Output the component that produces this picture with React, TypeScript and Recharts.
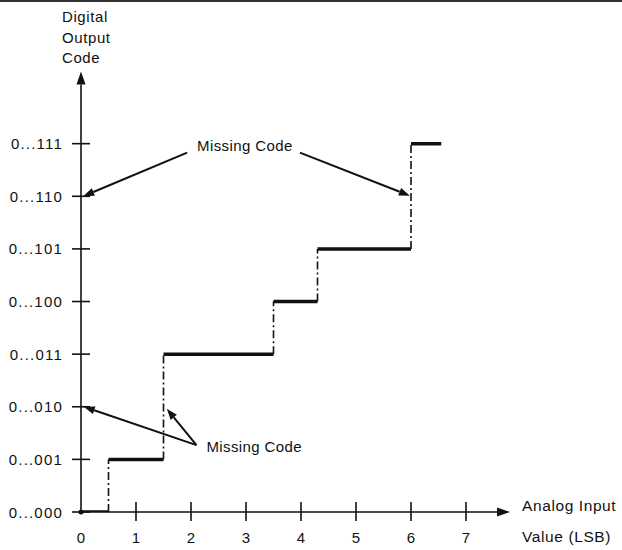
import { LineChart, Line, XAxis, YAxis, ReferenceLine, ReferenceDot } from "recharts";

// output codes shown on the vertical axis (index = code value)
const codeLabels = ["0...000", "0...001", "0...010", "0...011", "0...100", "0...101", "0...110", "0...111"];
const xTicks = [0, 1, 2, 3, 4, 5, 6, 7];

// staircase: each code is held from stepStart to stepEnd (LSB)
const stepCodes = [0, 1, 3, 4, 5, 7];
const stepStarts = [0, 0.5, 1.5, 3.5, 4.3, 6.0];
const stepEnds = [0.5, 1.5, 3.5, 4.3, 6.0, 6.55];

// "Missing Code" callouts: text anchor and arrows (tail -> tip)
const noteTop = { x: 2.98, y: 6.97 };
const noteBottom = { x: 3.15, y: 1.24 };
const arrowTails = [
  { x: 1.93, y: 6.83 },
  { x: 3.98, y: 6.83 },
  { x: 2.1, y: 1.27 },
  { x: 2.1, y: 1.27 },
];
const arrowTips = [
  { x: 0.04, y: 6 },
  { x: 5.98, y: 6.01 },
  { x: 0.05, y: 2 },
  { x: 1.56, y: 1.96 },
];

const FONT = '"Liberation Sans", Arial, Helvetica, sans-serif';
const INK = "#111";

// horizontal parts of the staircase, broken up with nulls
const flatData: { x: number; y: number | null }[] = [];
stepCodes.forEach((c, i) => {
  flatData.push({ x: stepStarts[i], y: c });
  flatData.push({ x: stepEnds[i], y: c });
  flatData.push({ x: stepEnds[i], y: null });
});

// vertical transitions (dash-dot)
const riseData: { x: number; y: number | null }[] = [];
for (let i = 0; i < stepCodes.length - 1; i++) {
  riseData.push({ x: stepEnds[i], y: stepCodes[i] });
  riseData.push({ x: stepEnds[i], y: stepCodes[i + 1] });
  riseData.push({ x: stepEnds[i], y: null });
}

const arrowShape = (head: number, width: number, sw: number) => (props: any) => {
  const { x1, y1, x2, y2 } = props;
  const ang = Math.atan2(y2 - y1, x2 - x1);
  const bx = x2 - head * Math.cos(ang);
  const by = y2 - head * Math.sin(ang);
  const px = Math.sin(ang) * width;
  const py = -Math.cos(ang) * width;
  return (
    <g>
      <line x1={x1} y1={y1} x2={bx} y2={by} stroke={INK} strokeWidth={sw} />
      <polygon points={`${x2},${y2} ${bx + px},${by + py} ${bx - px},${by - py}`} fill={INK} />
    </g>
  );
};

const YTick = (props: any) => {
  const { x, y, payload } = props;
  return (
    <g>
      <line x1={x - 9} x2={x + 9} y1={y} y2={y} stroke={INK} strokeWidth={1.6} />
      <text x={x - 18} y={y} textAnchor="end" dominantBaseline="central" fontSize={15} letterSpacing={1.2} fill={INK} fontFamily={FONT}>
        {codeLabels[payload.value]}
      </text>
    </g>
  );
};

const XTick = (props: any) => {
  const { x, y, payload } = props;
  return (
    <g>
      {payload.value !== 0 && <line x1={x} x2={x} y1={y - 10} y2={y + 9} stroke={INK} strokeWidth={1.6} />}
      <text x={x} y={y + 25} textAnchor="middle" dominantBaseline="central" fontSize={15} fill={INK} fontFamily={FONT}>
        {payload.value}
      </text>
    </g>
  );
};

const note = {
  content: (p: any) => (
    <text
      x={p.viewBox.x}
      y={p.viewBox.y}
      textAnchor="middle"
      dominantBaseline="central"
      fontSize={15}
      letterSpacing={0.4}
      fill={INK}
      fontFamily={FONT}
    >
      Missing Code
    </text>
  ),
};

export default function App() {
  return (
    <div style={{ position: "absolute", left: 0, top: 0, width: 622, height: 550, background: "#fff", fontFamily: FONT, color: INK }}>
      <div style={{ position: "absolute", left: 0, top: 0, width: 622, height: 2, background: "#333" }} />
      <div style={{ position: "absolute", left: 62, top: 7, fontSize: 15, letterSpacing: 0.6, lineHeight: "20.5px" }}>
        Digital
        <br />
        Output
        <br />
        Code
      </div>
      <div style={{ position: "absolute", left: 522, top: 490, fontSize: 15.5, lineHeight: "31px", letterSpacing: 0.6, whiteSpace: "nowrap" }}>
        Analog Input
        <br />
        Value (LSB)
      </div>
      <LineChart width={622} height={550} margin={{ top: 70, right: 101, bottom: 8, left: 11 }}>
        <XAxis
          type="number"
          dataKey="x"
          domain={[0, 8]}
          ticks={xTicks}
          interval={0}
          allowDataOverflow
          axisLine={false}
          tickLine={false}
          tickSize={0}
          tickMargin={0}
          height={30}
          tick={XTick}
        />
        <YAxis
          type="number"
          domain={[0, 8.4]}
          ticks={xTicks}
          interval={0}
          allowDataOverflow
          axisLine={false}
          tickLine={false}
          tickSize={0}
          tickMargin={0}
          width={70}
          tick={YTick}
        />
        {/* axes with arrow heads */}
        <ReferenceLine segment={[{ x: 0, y: 0 }, { x: 7.8, y: 0 }]} shape={arrowShape(13, 4.5, 1.6)} />
        <ReferenceLine segment={[{ x: 0, y: 0 }, { x: 0, y: 8.37 }]} shape={arrowShape(13, 4.5, 1.6)} />

        <Line
          data={riseData}
          dataKey="y"
          stroke={INK}
          strokeWidth={1.6}
          strokeDasharray="8 3 2 3"
          dot={false}
          connectNulls={false}
          isAnimationActive={false}
        />
        <Line
          data={flatData}
          dataKey="y"
          stroke={INK}
          strokeWidth={3.5}
          strokeLinecap="butt"
          dot={false}
          connectNulls={false}
          isAnimationActive={false}
        />
        <ReferenceDot x={0} y={0} r={2.5} fill={INK} stroke="none" />

        {arrowTails.map((t, i) => (
          <ReferenceLine key={i} segment={[t, arrowTips[i]]} shape={arrowShape(11, 4, 2)} />
        ))}
        <ReferenceDot x={noteTop.x} y={noteTop.y} r={0} ifOverflow="visible" label={note} />
        <ReferenceDot x={noteBottom.x} y={noteBottom.y} r={0} ifOverflow="visible" label={note} />
      </LineChart>
    </div>
  );
}
